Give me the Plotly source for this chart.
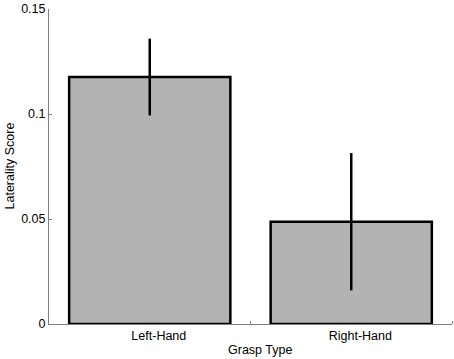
import plotly.graph_objects as go

categories = ["Left-Hand", "Right-Hand"]
scores = [0.1176, 0.0487]
errors = [0.0183, 0.0327]
y_ticks = [0, 0.05, 0.1, 0.15]
y_tick_labels = ["0", "0.05", "0.1", "0.15"]

xpos = [1, 2]

fig = go.Figure()
fig.add_trace(go.Bar(
    x=xpos, y=scores, width=0.8,
    marker=dict(color="#b3b3b3", line=dict(color="black", width=2.5)),
    error_y=dict(type="data", array=errors, visible=True, color="black",
                 thickness=2.5, width=0),
    showlegend=False,
))

fig.update_layout(
    width=454, height=359,
    margin=dict(l=49, r=2, t=9, b=35, autoexpand=False),
    plot_bgcolor="white", paper_bgcolor="white",
    font=dict(family="Liberation Sans, Arial, sans-serif", size=12, color="black"),
    bargap=0.2,
    annotations=[
        dict(text="Grasp Type", xref="paper", yref="paper", x=0.523, y=0,
             yshift=-26, xanchor="center", yanchor="middle", showarrow=False,
             font=dict(size=12.5)),
        dict(text="Laterality Score", xref="paper", yref="paper", x=0, y=0.5,
             xshift=-40, textangle=-90, xanchor="center", yanchor="middle",
             showarrow=False, font=dict(size=12.5)),
    ],
)
fig.update_xaxes(
    range=[0.5, 2.5], automargin=False,
    tickmode="array", tickvals=[1.045, 2.045], ticktext=categories,
    ticks="", showgrid=False, zeroline=False,
    showline=True, linecolor="#7f7f7f", linewidth=1,
    tickfont=dict(size=12.5),
    minor=dict(tickmode="array", tickvals=[1.5, 2.5], ticks="inside",
               ticklen=3, tickcolor="#7f7f7f", tickwidth=1, showgrid=False),
)
fig.update_yaxes(
    range=[0, 0.15], automargin=False,
    tickmode="array", tickvals=y_ticks, ticktext=y_tick_labels,
    ticks="inside", ticklen=3, tickcolor="#7f7f7f",
    showgrid=False, zeroline=False,
    showline=True, linecolor="#7f7f7f", linewidth=1,
    tickfont=dict(size=12.5),
)

fig.write_html("out.html", config={"displayModeBar": False},
               post_script="document.body.style.margin='0';")
